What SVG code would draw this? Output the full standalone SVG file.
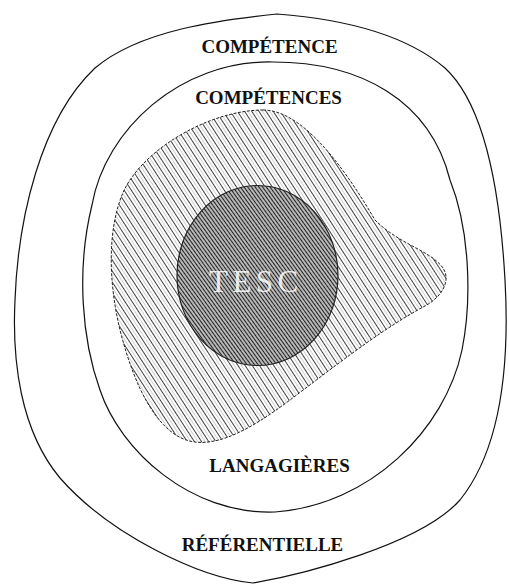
<svg xmlns="http://www.w3.org/2000/svg" width="509" height="585" viewBox="0 0 509 585">
  <style>
    .ring { fill: none; stroke: #111; stroke-width: 1.2; }
    .lbl { font-family: "Liberation Serif", "Times New Roman", serif; font-weight: bold; font-size: 19px; fill: #111; text-anchor: middle; }
    .core { font-family: "Liberation Serif", "Times New Roman", serif; font-size: 31px; fill: #fff; fill-opacity: 0.85; letter-spacing: 4.5px; }
  </style>
  <defs>
    <pattern id="hatch" patternUnits="userSpaceOnUse" width="6" height="6" patternTransform="rotate(-33)">
      <rect width="6" height="6" fill="#fff"/>
      <rect x="0" y="0" width="0.9" height="6" fill="#2a2a2a"/>
      <rect x="3" y="0" width="0.7" height="6" fill="#bbb"/>
    </pattern>
    <pattern id="dense" patternUnits="userSpaceOnUse" width="3" height="3" patternTransform="rotate(-36)">
      <rect width="3" height="3" fill="#b8b8b8"/>
      <rect x="0" y="0" width="1" height="3" fill="#222"/>
    </pattern>
  </defs>
  <rect width="509" height="585" fill="#fff"/>

  <g id="outer-ring">
    <path class="ring" d="M 277,14 C 330,18 400,30 445,68 C 485,105 500,190 505,280 C 510,370 500,450 460,500 C 420,545 300,575 253,583 C 200,578 110,535 60,478 C 20,430 12,360 15,300 C 18,220 40,120 95,68 C 140,30 220,20 277,14 Z"/>
    <text class="lbl" x="269.5" y="53">COMPÉTENCE</text>
    <text class="lbl" x="262.5" y="551">RÉFÉRENTIELLE</text>
  </g>

  <g id="middle-ring">
    <path class="ring" d="M 273,62 C 360,62 430,100 450,180 C 470,230 472,300 462,350 C 445,430 370,505 275,512 C 190,515 120,450 100,390 C 82,340 76,270 92,205 C 105,130 180,60 273,62 Z"/>
    <text class="lbl" x="268.5" y="104">COMPÉTENCES</text>
    <text class="lbl" x="279.5" y="472">LANGAGIÈRES</text>
  </g>

  <g id="hatched-area">
    <path d="M 263,110 C 300,110 340,160 375,220 C 400,245 430,250 443,268 C 452,282 440,298 425,306 C 380,330 330,370 290,400 C 250,430 220,445 195,442 C 160,438 135,390 120,330 C 108,280 108,230 122,195 C 140,150 210,110 263,110 Z" fill="url(#hatch)" stroke="#222" stroke-width="1" stroke-dasharray="3 1.5"/>
  </g>

  <g id="tesc">
    <ellipse cx="257.5" cy="275.5" rx="80.5" ry="90" fill="url(#dense)" stroke="#222" stroke-width="1.2"/>
    <text class="core" x="209" y="292">TESC</text>
  </g>
</svg>
